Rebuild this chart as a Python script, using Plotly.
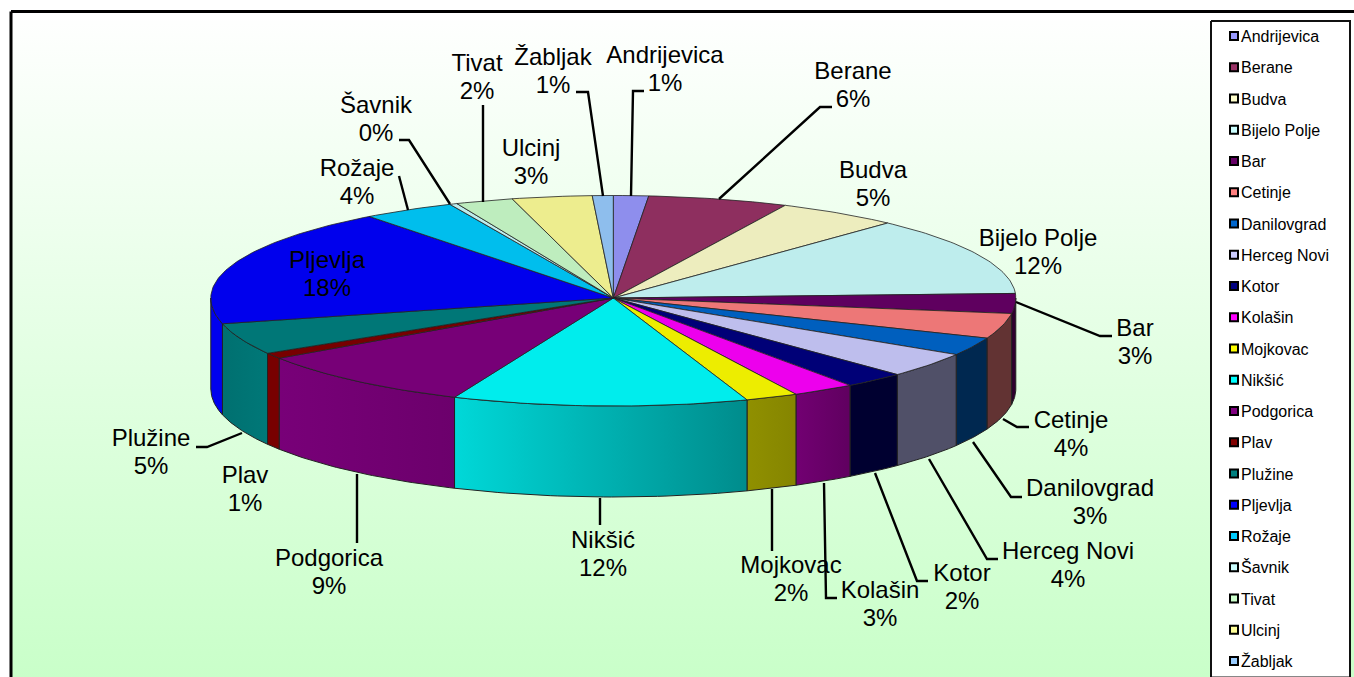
import numpy as np
import plotly.graph_objects as go

# ---------- data ----------
categories = ["Andrijevica", "Berane", "Budva", "Bijelo Polje", "Bar", "Cetinje", "Danilovgrad",
              "Herceg Novi", "Kotor", "Kolašin", "Mojkovac", "Nikšić", "Podgorica", "Plav",
              "Plužine", "Pljevlja", "Rožaje", "Šavnik", "Tivat", "Ulcinj", "Žabljak"]
values = [1.4, 5.6, 4.9, 12.3, 3.0, 3.75, 2.7, 3.75, 2.45, 2.5, 2.1, 11.8, 9.1, 0.86,
          4.7, 18.4, 3.7, 0.3, 2.3, 3.2, 0.83]
percent_labels = ["1%", "6%", "5%", "12%", "3%", "4%", "3%", "4%", "2%", "3%", "2%", "12%", "9%", "1%",
                  "5%", "18%", "4%", "0%", "2%", "3%", "1%"]

# ---------- styles ----------
legend_colors = ["#9999FF", "#993366", "#FFFFCC", "#CCFFFF", "#660066", "#FF8080", "#0066CC",
                 "#CCCCFF", "#000080", "#FF00FF", "#FFFF00", "#00FFFF", "#800080", "#800000",
                 "#008080", "#0000FF", "#00CCFF", "#CCFFFF", "#CCFFCC", "#FFFF99", "#99CCFF"]
side_colors = {"Bar": ("#30002F", "#30002F"), "Cetinje": ("#623333", "#623333"),
               "Danilovgrad": ("#002850", "#002850"), "Herceg Novi": ("#505068", "#505068"),
               "Kotor": ("#000030", "#000030"), "Kolašin": ("#720072", "#600060"),
               "Mojkovac": ("#909000", "#858500"), "Nikšić": ("#00D8D8", "#008C8C"),
               "Podgorica": ("#780078", "#6C006C"), "Plav": ("#780000", "#780000"),
               "Plužine": ("#007070", "#007878"), "Pljevlja": ("#0000EE", "#0000EE")}
FONT = "Liberation Sans, Arial, sans-serif"
W, H = 1354, 677
CX, CY, RX, RY_BACK, RY_FRONT, DEPTH = 613.3, 298.0, 402.5, 102.5, 108.0, 91.0

# ---------- label layout: centre of first line, second line, leader polyline ----------
label_xy = {"Andrijevica": (665, 57), "Berane": (853, 73), "Budva": (873, 172), "Bijelo Polje": (1038, 240),
            "Bar": (1135, 330), "Cetinje": (1071, 422), "Danilovgrad": (1090, 490), "Herceg Novi": (1068, 553),
            "Kotor": (962, 575), "Kolašin": (880, 592), "Mojkovac": (791, 567), "Nikšić": (603, 542),
            "Podgorica": (329, 560), "Plav": (245, 477), "Plužine": (151, 440), "Pljevlja": (327, 262),
            "Rožaje": (357, 170), "Šavnik": (376, 107), "Tivat": (477, 65), "Ulcinj": (531, 150),
            "Žabljak": (553, 59)}
LINE_GAP = 28
leaders = [[(631, 196), (633, 91), (644, 91)], [(719, 199), (820, 107), (832, 107)],
           [(1016, 302), (1100, 336), (1112, 336)], [(1003, 419), (1017, 427), (1029, 427)],
           [(973, 442), (1011, 497), (1022, 497)], [(929, 459), (987, 559), (998, 559)],
           [(875, 473), (917, 581), (928, 581)], [(824, 483), (826, 598), (837, 598)],
           [(772, 489), (772, 551)], [(600, 498), (600, 525)], [(357, 474), (357, 543)],
           [(242, 433), (207, 447), (196, 447)], [(408, 210), (399, 176)],
           [(450, 204), (409, 140), (399, 140)], [(483, 202), (483, 105)],
           [(603, 196), (588, 92), (576, 92)]]


def darken(hex_color, f=0.93):
    r, g, b = (int(hex_color[i:i + 2], 16) for i in (1, 3, 5))
    return f"rgb({round(r * f)},{round(g * f)},{round(b * f)})"


def rim(t):
    c = np.cos(t)
    return CX + RX * np.sin(t), CY - np.where(c >= 0, RY_BACK, RY_FRONT) * c


shares = np.array(values) / sum(values)
edges = np.concatenate([[0], np.cumsum(shares)]) * 2 * np.pi

fig = go.Figure()


def poly(xs, ys, **kw):
    fig.add_trace(go.Scatter(x=list(xs), y=list(ys), mode="lines", fill="toself", showlegend=False,
                             hoverinfo="skip", **kw))


# background and frame
poly([11, W + 5, W + 5, 11, 11], [11.5, 11.5, H + 5, H + 5, 11.5], line=dict(color="black", width=3),
     fillgradient=dict(type="vertical", colorscale=[[0, "#FFFFFF"], [1, "#C9FFC9"]], start=11, stop=H))

# side wall
for name, a, b in zip(categories, edges[:-1], edges[1:]):
    lo, hi = max(a, np.pi / 2), min(b, 3 * np.pi / 2)
    if hi <= lo:
        continue
    t = np.linspace(lo, hi, 40)
    x, y = rim(t)
    c1, c2 = side_colors[name]
    poly(np.r_[x, x[::-1], x[0]], np.r_[y, y[::-1] + DEPTH, y[0]],
         line=dict(color="#222222", width=1),
         fillgradient=dict(type="horizontal", colorscale=[[0, c1], [1, c2]]))

# top face
for name, color, a, b, p in zip(categories, legend_colors, edges[:-1], edges[1:], percent_labels):
    t = np.linspace(a, b, max(3, int((b - a) * 60)))
    x, y = rim(t)
    fig.add_trace(go.Scatter(x=np.r_[CX, x, CX], y=np.r_[CY, y, CY], mode="lines", fill="toself",
                             fillcolor=darken(color), line=dict(color="#222222", width=0.8),
                             showlegend=False, name=name, hoveron="fills", text=f"{name} {p}",
                             hoverinfo="text"))

# leader lines
for pts in leaders:
    fig.add_trace(go.Scatter(x=[q[0] for q in pts], y=[q[1] for q in pts], mode="lines",
                             line=dict(color="black", width=2.4), showlegend=False, hoverinfo="skip"))

# slice labels
tx, ty, tt = [], [], []
for name, p in zip(categories, percent_labels):
    lx, ly = label_xy[name]
    tx += [lx, lx]
    ty += [ly, ly + LINE_GAP]
    tt += [name, p]
fig.add_trace(go.Scatter(x=tx, y=ty, text=tt, mode="text", textposition="middle center",
                         textfont=dict(family=FONT, size=24, color="black"), showlegend=False,
                         hoverinfo="skip"))

# legend box
poly([1211, 1350, 1350, 1211, 1211], [21, 21, 677.5, 677.5, 21], fillcolor="white",
     line=dict(color="#111111", width=2))
legend_y = [36 + i * 31.25 for i in range(len(categories))]
fig.add_trace(go.Scatter(x=[1234] * len(categories), y=legend_y, mode="markers",
                         marker=dict(symbol="square", size=8, color=legend_colors,
                                     line=dict(color="black", width=2)),
                         showlegend=False, hoverinfo="skip"))
fig.add_trace(go.Scatter(x=[1241] * len(categories), y=[v + 2 for v in legend_y], text=categories, mode="text",
                         textposition="middle right", textfont=dict(family=FONT, size=16, color="black"),
                         showlegend=False, hoverinfo="skip"))

fig.update_layout(width=W, height=H, autosize=False, margin=dict(l=0, r=0, t=0, b=0),
                  paper_bgcolor="white", plot_bgcolor="white", showlegend=False,
                  xaxis=dict(range=[0, W], visible=False, fixedrange=True),
                  yaxis=dict(range=[H, 0], visible=False, fixedrange=True))
fig.write_html("out.html", config={"displayModeBar": False},
               post_script="document.documentElement.style.overflow='hidden';document.body.style.margin='0';")
